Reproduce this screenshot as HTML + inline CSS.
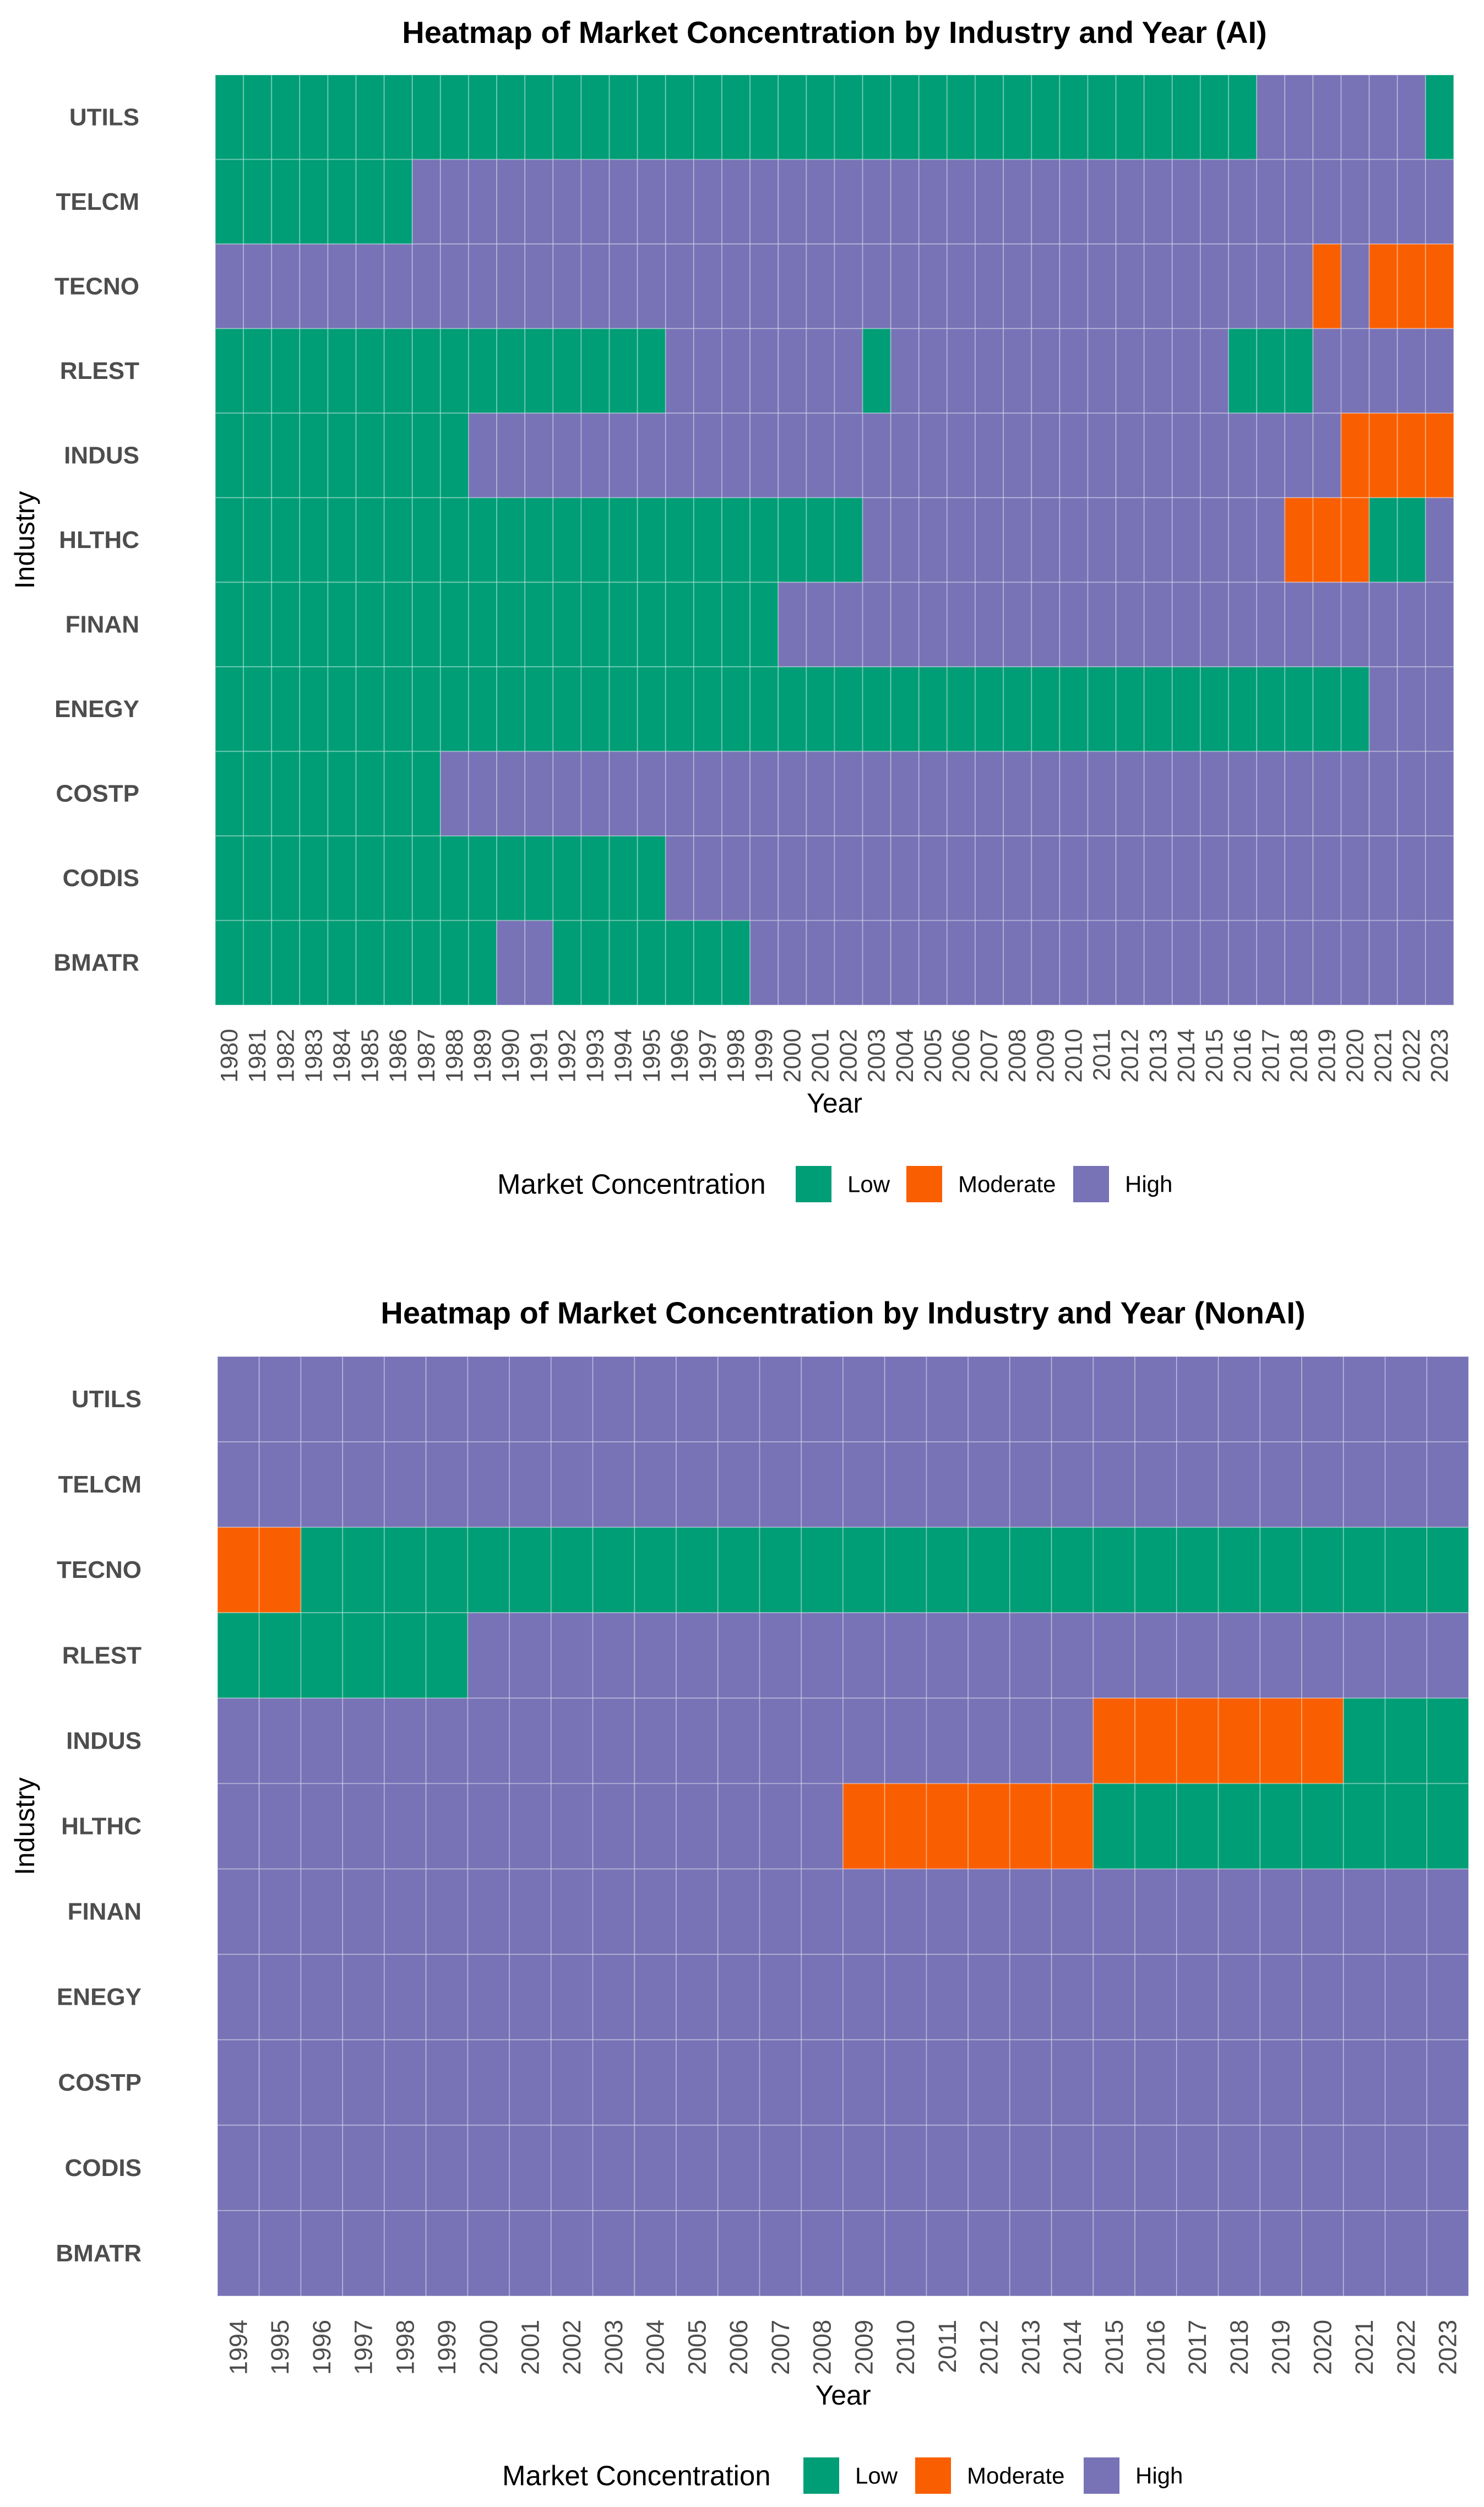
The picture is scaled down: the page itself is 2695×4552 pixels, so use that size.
<!DOCTYPE html>
<html><head><meta charset="utf-8">
<style>
html,body{margin:0;padding:0;background:#fff;}
svg{display:block;}
text{font-family:"Liberation Sans",Arial,sans-serif;}
</style></head>
<body>
<svg id="chart" width="2695" height="4552" viewBox="0 0 2695 4552" xmlns="http://www.w3.org/2000/svg">
<rect x="0" y="0" width="2695" height="4552" fill="#ffffff"/>
</svg>
<script>
// ---------- data ----------
const industries = ["UTILS","TELCM","TECNO","RLEST","INDUS","HLTHC","FINAN","ENEGY","COSTP","CODIS","BMATR"];
const levels = ["Low","Moderate","High"];
const yearsAI = [];
for (let y = 1980; y <= 2023; y++) yearsAI.push(y);
const yearsNonAI = [];
for (let y = 1994; y <= 2023; y++) yearsNonAI.push(y);
// L = Low, M = Moderate, H = High ; one char per year
const aiUTILS = "LLLLLLLLLLLLLLLLLLLLLLLLLLLLLLLLLLLLLHHHHHHL";
const aiTELCM = "LLLLLLLHHHHHHHHHHHHHHHHHHHHHHHHHHHHHHHHHHHHH";
const aiTECNO = "HHHHHHHHHHHHHHHHHHHHHHHHHHHHHHHHHHHHHHHMHMMM";
const aiRLEST = "LLLLLLLLLLLLLLLLHHHHHHHLHHHHHHHHHHHHLLLHHHHH";
const aiINDUS = "LLLLLLLLLHHHHHHHHHHHHHHHHHHHHHHHHHHHHHHHMMMM";
const aiHLTHC = "LLLLLLLLLLLLLLLLLLLLLLLHHHHHHHHHHHHHHHMMMLLH";
const aiFINAN = "LLLLLLLLLLLLLLLLLLLLHHHHHHHHHHHHHHHHHHHHHHHH";
const aiENEGY = "LLLLLLLLLLLLLLLLLLLLLLLLLLLLLLLLLLLLLLLLLHHH";
const aiCOSTP = "LLLLLLLLHHHHHHHHHHHHHHHHHHHHHHHHHHHHHHHHHHHH";
const aiCODIS = "LLLLLLLLLLLLLLLLHHHHHHHHHHHHHHHHHHHHHHHHHHHH";
const aiBMATR = "LLLLLLLLLLHHLLLLLLLHHHHHHHHHHHHHHHHHHHHHHHHH";
const nonUTILS = "HHHHHHHHHHHHHHHHHHHHHHHHHHHHHH";
const nonTELCM = "HHHHHHHHHHHHHHHHHHHHHHHHHHHHHH";
const nonTECNO = "MMLLLLLLLLLLLLLLLLLLLLLLLLLLLL";
const nonRLEST = "LLLLLLHHHHHHHHHHHHHHHHHHHHHHHH";
const nonINDUS = "HHHHHHHHHHHHHHHHHHHHHMMMMMMLLL";
const nonHLTHC = "HHHHHHHHHHHHHHHMMMMMMLLLLLLLLL";
const nonFINAN = "HHHHHHHHHHHHHHHHHHHHHHHHHHHHHH";
const nonENEGY = "HHHHHHHHHHHHHHHHHHHHHHHHHHHHHH";
const nonCOSTP = "HHHHHHHHHHHHHHHHHHHHHHHHHHHHHH";
const nonCODIS = "HHHHHHHHHHHHHHHHHHHHHHHHHHHHHH";
const nonBMATR = "HHHHHHHHHHHHHHHHHHHHHHHHHHHHHH";
const aiRows = [aiUTILS,aiTELCM,aiTECNO,aiRLEST,aiINDUS,aiHLTHC,aiFINAN,aiENEGY,aiCOSTP,aiCODIS,aiBMATR];
const nonRows = [nonUTILS,nonTELCM,nonTECNO,nonRLEST,nonINDUS,nonHLTHC,nonFINAN,nonENEGY,nonCOSTP,nonCODIS,nonBMATR];

// ---------- styling ----------
const colors = {L:"#009E76", M:"#F95F00", H:"#7872B6"};
const NS = "http://www.w3.org/2000/svg";
const svg = document.getElementById("chart");
function mk(tag, attrs, parent){
  const e = document.createElementNS(NS, tag);
  for (const k in attrs) e.setAttribute(k, attrs[k]);
  (parent||svg).appendChild(e);
  return e;
}

function drawPanel(cfg){
  const g = mk("g", {});
  
  
  const years = cfg.years, rows = cfg.rows;
  const cw = (cfg.x1 - cfg.x0) / years.length;
  const rh = (cfg.y1 - cfg.y0) / industries.length;
  const xScale = i => cfg.x0 + i * cw;
  const yScale = j => cfg.y0 + j * rh;
  // title
  const t = mk("text", {x:(cfg.x0+cfg.x1)/2, y:cfg.titleY, "text-anchor":"middle", "font-size":"56", "font-weight":"bold", fill:"#000"}, g);
  t.textContent = cfg.title;
  
  
  // cells
  rows.forEach((row, j) => {
    years.forEach((yr, i) => {
      const r = mk("rect", {x:xScale(i), y:yScale(j), width:cw, height:rh, fill:colors[row[i]], stroke:"rgba(255,255,255,0.3)", "stroke-width":"2"}, g);
      
      
    });
  });
  // y labels
  industries.forEach((ind, j) => {
    const l = mk("text", {x:cfg.x0-138, y:yScale(j)+rh/2, "text-anchor":"end", "dominant-baseline":"central", "font-size":"44", "font-weight":"bold", fill:"#4d4d4d"}, g);
    l.textContent = ind;
    
    
  });
  // x labels
  years.forEach((yr, i) => {
    const cx = xScale(i) + cw/2, ty = cfg.y1 + 43;
    const l = mk("text", {x:cx, y:ty, transform:`rotate(-90 ${cx} ${ty})`, "text-anchor":"end", "dominant-baseline":"central", "font-size":cfg.tickFont, fill:"#4d4d4d"}, g);
    l.textContent = String(yr);
    
    
  });
  // axis titles
  const xt = mk("text", {x:(cfg.x0+cfg.x1)/2, y:cfg.yearY, "text-anchor":"middle", "font-size":"50", fill:"#000"}, g);
  xt.textContent = "Year";
  
  
  const yc = (cfg.y0+cfg.y1)/2;
  const yt = mk("text", {x:62, y:yc, transform:`rotate(-90 62 ${yc})`, "text-anchor":"middle", "font-size":"50", fill:"#000"}, g);
  yt.textContent = "Industry";
  
  
  // legend
  const lg = mk("g", {}, g);
  
  
  const lt = mk("text", {x:cfg.leg.title, y:cfg.leg.cy, "dominant-baseline":"central", "font-size":"51", fill:"#000"}, lg);
  lt.textContent = "Market Concentration";
  
  
  ["L","M","H"].forEach((k, idx) => {
    const sx = cfg.leg.sw[idx];
    const s = mk("rect", {x:sx, y:cfg.leg.cy-33, width:65, height:66, fill:colors[k]}, lg);
    
    
    const tx = mk("text", {x:sx+94, y:cfg.leg.cy, "dominant-baseline":"central", "font-size":"42", fill:"#000"}, lg);
    tx.textContent = levels[idx];
    
    
  });
}

drawPanel({name:"ai-heatmap", title:"Heatmap of Market Concentration by Industry and Year (AI)",
  years:yearsAI, rows:aiRows, x0:391, x1:2640, y0:136, y1:1825, titleY:78, tickFont:44,
  yearY:2020, leg:{title:903, cy:2150, sw:[1445,1646,1949]}});
drawPanel({name:"nonai-heatmap", title:"Heatmap of Market Concentration by Industry and Year (NonAI)",
  years:yearsNonAI, rows:nonRows, x0:395, x1:2667, y0:2463, y1:4169, titleY:2403, tickFont:45,
  yearY:4366, leg:{title:912, cy:4495, sw:[1459,1662,1968]}});
</script>
</body></html>
